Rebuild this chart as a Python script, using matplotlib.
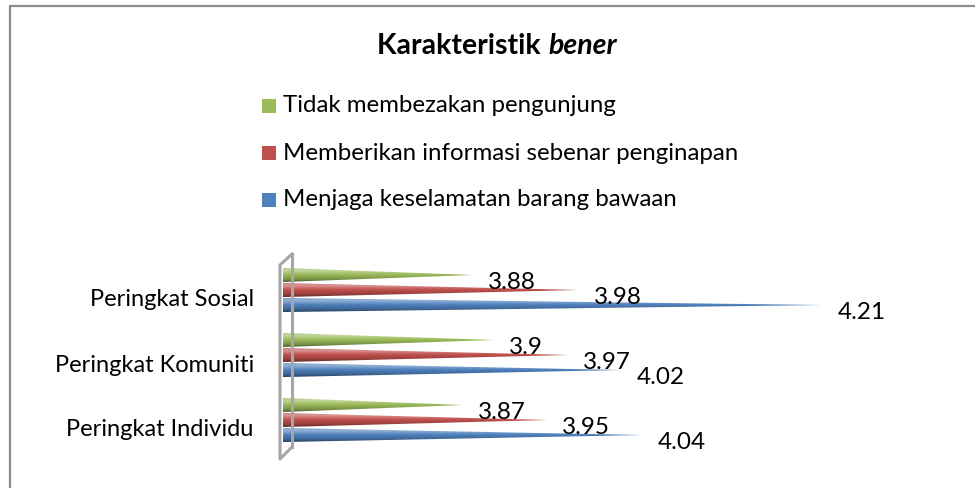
import numpy as np
import matplotlib
from matplotlib import pyplot as plt
from matplotlib.patches import Polygon, Rectangle
from matplotlib.lines import Line2D
from matplotlib.colors import to_rgb

matplotlib.rcParams['font.family'] = ['Lato', 'DejaVu Sans']

# data, bottom category first
categories = ['Peringkat Individu', 'Peringkat Komuniti', 'Peringkat Sosial']
series = ['Menjaga keselamatan barang bawaan',
          'Memberikan informasi sebenar penginapan',
          'Tidak membezakan pengunjung']
menjaga = [4.04, 4.02, 4.21]
memberikan = [3.95, 3.97, 3.98]
tidak = [3.87, 3.9, 3.88]
values = [menjaga, memberikan, tidak]
colors = ['#4F81BD', '#C0504D', '#9BBB59']

W, H = 975, 488
fig = plt.figure(figsize=(W / 100, H / 100), dpi=100)


def px(x, y):
    '''pixel (top-left origin) -> figure fraction'''
    return x / W, 1 - y / H


# plot area: x from 283 to 918 px, categories 65 px apart
left, right = 283, 918
top, bottom = 265.5, 460.5
ax = fig.add_axes([left / W, 1 - bottom / H, (right - left) / W, (bottom - top) / H])
for s in ax.spines.values():
    s.set_visible(False)
ax.set_xticks([])
ax.set_yticks(range(len(categories)))
ax.set_yticklabels(categories, fontsize=17, color='black')
ax.tick_params(axis='y', length=0, pad=21)
ax.patch.set_alpha(0)

offsets = [-0.108, 0.123, 0.354]   # blue, red, green
half = 0.108
x0 = 3.7


def shade(c):
    c = np.array(to_rgb(c))
    stops = [(0.0, c * 0.5), (0.2, c * 0.8), (0.5, c),
             (0.78, c + (1 - c) * 0.4), (1.0, c + (1 - c) * 0.15)]
    t = np.linspace(0, 1, 64)
    img = np.zeros((64, 1, 3))
    for k in range(3):
        img[:, 0, k] = np.interp(t, [s[0] for s in stops], [s[1][k] for s in stops])
    return img


for vals, off, col in zip(values, offsets, colors):
    grad = shade(col)
    for i, v in enumerate(vals):
        y = i + off
        poly = Polygon([(x0, y - half), (v, y), (x0, y + half)], closed=True,
                       facecolor='none', edgecolor='none')
        ax.add_patch(poly)
        im = ax.imshow(grad, extent=[x0, v, y - half, y + half], origin='lower',
                       aspect='auto', interpolation='bilinear', zorder=2)
        im.set_clip_path(poly)
        ax.annotate('{:g}'.format(v), (v, y), xytext=(10.5, -5.5),
                    textcoords='offset points', ha='left', va='center',
                    fontsize=17.5, color='black', annotation_clip=False)

ax.set_xlim(3.7, 4.3)
ax.set_ylim(-0.5, 2.5)

# 3D-style vertical axis wall
wall = [(292, 254), (280, 265), (280, 459), (292, 447)]
xs, ys = zip(*[px(*p) for p in wall])
fig.add_artist(Line2D(xs, ys, color='#a6a6a6', lw=2.2, zorder=1))
xs, ys = zip(*[px(*p) for p in [(292, 254), (292, 447)]])
fig.add_artist(Line2D(xs, ys, color='#a6a6a6', lw=2.2, zorder=1))

# title: bold + bold italic, centred as one line
r = fig.canvas.get_renderer()
t1 = fig.text(0, 0, 'Karakteristik ', fontsize=20.5, fontweight='bold',
              ha='left', va='center')
t2 = fig.text(0, 0, 'bener', fontsize=20.5, fontweight='bold', style='italic',
              ha='left', va='center')
w1 = t1.get_window_extent(r).width
w2 = t2.get_window_extent(r).width
x_start = 497 - (w1 + w2) / 2
t1.set_position(px(x_start, 46))
t2.set_position(px(x_start + w1, 46))

# legend, top row is the last series
rows = [106, 153, 200]
for row, name, col in zip(rows, series[::-1], colors[::-1]):
    fx, fy = px(262, row + 7)
    fig.add_artist(Rectangle((fx, fy), 14 / W, 14 / H, transform=fig.transFigure,
                             facecolor=col, edgecolor='none'))
    fig.text(*px(283, row), name, fontsize=17.3, ha='left', va='center')

# chart border (cut at right and bottom)
xs, ys = zip(*[px(*p) for p in [(10, H), (10, 6), (W, 6)]])
fig.add_artist(Line2D(xs, ys, color='#8c8c8c', lw=1.6))

fig.savefig('out.png', dpi=100)
